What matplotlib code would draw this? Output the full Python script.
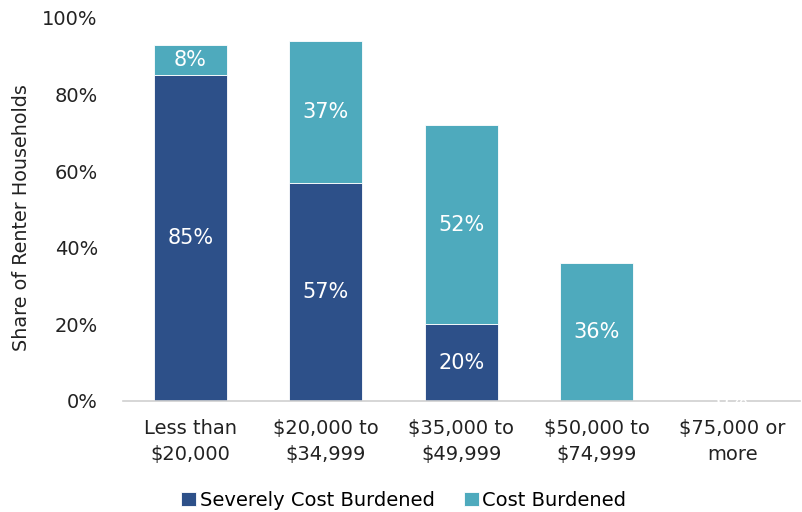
import matplotlib
matplotlib.use("Agg")
import matplotlib.pyplot as plt
import numpy as np

categories = ["Less than\n$20,000", "$20,000 to\n$34,999", "$35,000 to\n$49,999", "$50,000 to\n$74,999", "$75,000 or\nmore"]
severe = [85, 57, 20, 0, 0]
burdened = [8, 37, 52, 36, 0]

plt.rcParams['font.family'] = ['DejaVu Sans']

fig = plt.figure(figsize=(8.03, 5.12), dpi=100)
ax = fig.add_axes([0.153, 0.217, 0.843, 0.748])

x = np.arange(len(categories))
w = 0.54
c_sev = "#2D5089"
c_cb = "#4EAABD"
b1 = ax.bar(x, severe, w, color=c_sev, edgecolor="white", linewidth=0.6, label="Severely Cost Burdened")
b2 = ax.bar(x, burdened, w, bottom=severe, color=c_cb, edgecolor="white", linewidth=0.6, label="Cost Burdened")

for i in range(len(categories)):
    if severe[i] > 0:
        ax.text(x[i], severe[i] / 2, f"{severe[i]}%", ha="center", va="center", color="white", fontsize=15)
    ax.text(x[i], severe[i] + burdened[i] / 2, f"{burdened[i]}%", ha="center", va="center", color="white", fontsize=15)

ax.set_ylim(0, 100)
ax.set_xlim(-0.5, len(categories) - 0.5)
ax.set_yticks(range(0, 101, 20))
ax.set_yticklabels([f"{v}%" for v in range(0, 101, 20)], fontsize=14)
ax.set_xticks(x)
ax.set_xticklabels(categories, fontsize=14, linespacing=1.45)
ax.tick_params(axis="both", length=0, colors="#222222")
ax.tick_params(axis="y", pad=18)
ax.tick_params(axis="x", pad=13)
for s in ["top", "right", "left"]:
    ax.spines[s].set_visible(False)
ax.spines["bottom"].set_color("#D0D0D0")
ax.spines["bottom"].set_linewidth(1.2)
ax.set_ylabel("Share of Renter Households", fontsize=13.8, color="#222222")
ax.yaxis.set_label_coords(-0.135, 0.48)

fig.legend(handles=[b1, b2], loc="lower center", bbox_to_anchor=(0.503, -0.03), ncol=2, frameon=False,
           fontsize=14, handlelength=0.75, handleheight=0.75, columnspacing=1.5, handletextpad=0.2)

fig.savefig("out.png", dpi=100)
